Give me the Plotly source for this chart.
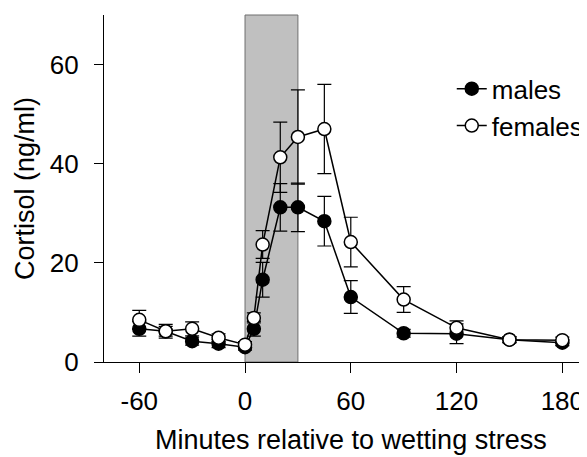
import plotly.graph_objects as go

minutes = [-60, -45, -30, -15, 0, 5, 10, 20, 30, 45, 60, 90, 120, 150, 180]
males = [6.7, 6.2, 4.2, 3.7, 3.0, 6.7, 16.6, 31.2, 31.2, 28.4, 13.1, 5.8, 5.7, 4.5, 3.9]
males_err = [1.5, 1.0, 0.8, 0.8, 0.6, 1.5, 3.5, 4.8, 4.9, 5.0, 3.3, 0.8, 2.0, 0.6, 0.6]
females = [8.5, 6.2, 6.7, 4.9, 3.5, 8.9, 23.7, 41.3, 45.4, 47.0, 24.2, 12.6, 6.9, 4.5, 4.4]
females_err = [1.9, 1.4, 1.4, 0.8, 0.6, 1.0, 2.8, 7.1, 9.5, 9.0, 5.0, 2.6, 1.4, 0.6, 0.6]
stress_start, stress_end = 0, 30
x_ticks = [-60, 0, 60, 120, 180]
x_tick_labels = ["-60", "0", "60", "120", "180"]
y_ticks = [0, 20, 40, 60]

FONT = "Liberation Sans, Arial, sans-serif"

fig = go.Figure()
fig.add_shape(type="rect", xref="x", yref="paper", x0=stress_start, x1=stress_end,
              y0=0, y1=1, fillcolor="#c0c0c0", line=dict(color="#6e6e6e", width=1), layer="below")

fig.add_trace(go.Scatter(
    x=minutes, y=males, name="males", mode="lines+markers",
    line=dict(color="black", width=1.5),
    marker=dict(symbol="circle", size=13, color="black", line=dict(color="black", width=1.5)),
    error_y=dict(type="data", array=males_err, visible=True, color="black", thickness=1.2, width=7),
))
fig.add_trace(go.Scatter(
    x=minutes, y=females, name="females", mode="lines+markers",
    line=dict(color="black", width=1.5),
    marker=dict(symbol="circle", size=13, color="white", line=dict(color="black", width=1.5)),
    error_y=dict(type="data", array=females_err, visible=True, color="black", thickness=1.2, width=7),
))

fig.add_annotation(text="Minutes relative to wetting stress", x=60, xref="x", y=-0.225, yref="paper",
                   yanchor="middle", showarrow=False, font=dict(size=27, color="black", family=FONT))

# page body adds an 8px offset; margins compensate so the plot area sits where the reference's does
fig.update_layout(
    width=587, height=457,
    margin=dict(l=96, r=8, t=7, b=103, autoexpand=False),
    paper_bgcolor="white", plot_bgcolor="white",
    font=dict(family=FONT, size=26, color="black"),
    showlegend=True,
    legend=dict(x=0.72, y=0.855, xanchor="left", yanchor="top", bgcolor="rgba(0,0,0,0)",
                font=dict(size=26), itemwidth=30, tracegroupgap=0),
    xaxis=dict(range=[-80, 194], tickvals=x_ticks, ticktext=x_tick_labels, showgrid=False, zeroline=False,
               showline=True, linecolor="black", linewidth=1.2, ticks="outside", ticklen=10,
               tickcolor="black", tickwidth=1.2, ticklabelstandoff=6, automargin=False),
    yaxis=dict(range=[0, 70], tickvals=y_ticks, showgrid=False, zeroline=False,
               showline=True, linecolor="black", linewidth=1.2, ticks="outside", ticklen=9,
               tickcolor="black", tickwidth=1.2, ticklabelstandoff=10, automargin=False,
               title=dict(text="Cortisol (ng/ml)", font=dict(size=27), standoff=7)),
)
fig.write_html("out.html")
